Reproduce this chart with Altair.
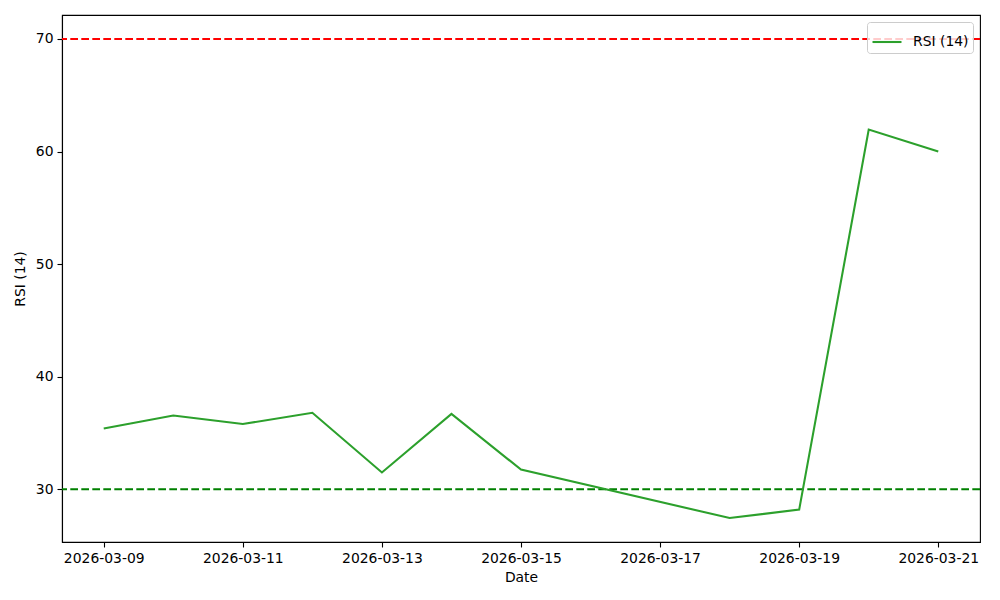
import altair as alt
import pandas as pd

dates = ["2026-03-09", "2026-03-10", "2026-03-11", "2026-03-12", "2026-03-13",
         "2026-03-14", "2026-03-15", "2026-03-18", "2026-03-19", "2026-03-20",
         "2026-03-21"]
rsi = [35.4, 36.55, 35.8, 36.8, 31.5, 36.7, 31.75, 27.45, 28.2, 61.95, 60.0]
series_name = "RSI (14)"
x_ticks = ["2026-03-09", "2026-03-11", "2026-03-13", "2026-03-15",
           "2026-03-17", "2026-03-19", "2026-03-21"]
y_ticks = [30, 40, 50, 60, 70]
overbought = [70]
oversold = [30]

df = pd.DataFrame({"date": dates, "rsi": rsi, "series": [series_name] * len(dates)})
hi_df = pd.DataFrame({"level": overbought})
lo_df = pd.DataFrame({"level": oversold})


def dt(s, h=0, m=0):
    y, mo, d = (int(v) for v in s.split("-"))
    return alt.DateTime(year=y, month=mo, date=d, hours=h, minutes=m, utc=True)


FONT = "DejaVu Sans"
FS = 13.9
LW = 2.08
DASH = [7.7, 3.3]

x_enc = alt.X(
    "date:T",
    title="Date",
    scale=alt.Scale(type="utc", domain=[dt("2026-03-08", 9, 36), dt("2026-03-21", 14, 24)]),
    axis=alt.Axis(values=[dt(s) for s in x_ticks],
                  labelExpr="utcFormat(datum.value, '%Y-%m-%d')",
                  labelAngle=0, titlePadding=6),
)
y_enc = alt.Y(
    "rsi:Q",
    title="RSI (14)",
    scale=alt.Scale(domain=[25.32, 72.13], nice=False, zero=False),
    axis=alt.Axis(values=y_ticks, titlePadding=8),
)

line = alt.Chart(df).mark_line(strokeWidth=LW).encode(
    x=x_enc,
    y=y_enc,
    color=alt.Color(
        "series:N",
        scale=alt.Scale(range=["#2ca02c"]),
        legend=alt.Legend(
            title=None, orient="top-right", offset=7, symbolType="stroke",
            symbolSize=841, symbolStrokeWidth=LW, labelFontSize=FS, labelFont=FONT,
            fillColor="rgba(255,255,255,0.8)", strokeColor="#cccccc", cornerRadius=3,
            padding=4, labelOffset=10,
        ),
    ),
)

rule_hi = alt.Chart(hi_df).mark_rule(color="red", strokeWidth=LW, strokeDash=DASH).encode(
    y="level:Q"
)
rule_lo = alt.Chart(lo_df).mark_rule(color="green", strokeWidth=LW, strokeDash=DASH).encode(
    y="level:Q"
)

chart = (
    alt.layer(rule_hi, rule_lo, line)
    .properties(
        width=918,
        height=527,
        autosize=alt.AutoSizeParams(type="none"),
        padding={"left": 54, "top": 7, "right": 12, "bottom": 50},
        background="white",
    )
    .configure_view(stroke="black", strokeWidth=1.1)
    .configure_axis(
        grid=False,
        domainColor="black",
        domainWidth=1.1,
        tickColor="black",
        tickSize=5,
        tickWidth=1.1,
        labelFont=FONT,
        labelFontSize=FS,
        labelColor="black",
        labelPadding=4,
        titleFont=FONT,
        titleFontSize=FS,
        titleFontWeight="normal",
        titleColor="black",
    )
)

chart.save("out.html", embed_options={"renderer": "svg", "actions": False})
